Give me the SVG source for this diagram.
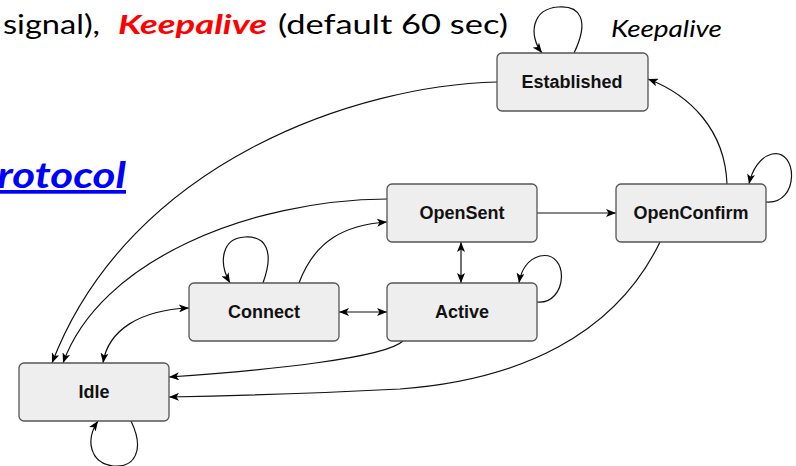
<svg xmlns="http://www.w3.org/2000/svg" width="796" height="466" viewBox="0 0 796 466">
<style>
.node rect{fill:#eeeeee;stroke:#555555;stroke-width:1.3}
.node text{font-family:"Liberation Sans",Arial,sans-serif;font-weight:bold;font-size:18px;fill:#111;text-anchor:middle}
.edge{fill:none;stroke:#111;stroke-width:1.2}
.head{font-family:Lato,"Open Sans",sans-serif;font-size:27px;fill:#000}
</style>
<defs>
<marker id="arr" viewBox="0 0 10 8" refX="10" refY="4" markerWidth="10" markerHeight="8" markerUnits="userSpaceOnUse" orient="auto-start-reverse">
<path d="M0,0 L10,4 L0,8 L2.5,4 z" fill="#000"/>
</marker>
</defs>
<rect width="796" height="466" fill="#ffffff"/>
<text class="head" x="3" y="34" textLength="97" lengthAdjust="spacingAndGlyphs">signal),</text>
<text class="head" x="118" y="34" textLength="149" lengthAdjust="spacingAndGlyphs" style="fill:#ff0000;font-weight:bold;font-style:italic">Keepalive</text>
<text class="head" x="278" y="34" textLength="230" lengthAdjust="spacingAndGlyphs">(default 60 sec)</text>
<text x="611" y="37" textLength="111" lengthAdjust="spacingAndGlyphs" style="font-family:Lato,'Open Sans',sans-serif;font-style:italic;font-size:23px;fill:#000">Keepalive</text>
<text x="126" y="188" text-anchor="end" textLength="154" lengthAdjust="spacingAndGlyphs" style="font-family:Lato,'Open Sans',sans-serif;font-style:italic;font-weight:bold;font-size:37px;fill:#0000ff;text-decoration:underline">Protocol</text>
<g id="connectors">
<path class="edge" d="M574,53 C590,20 580,5 558,7 C532,9 528,35 542,53" marker-end="url(#arr)"/>
<path class="edge" d="M497,82 C360,85 130,160 52,363" marker-end="url(#arr)"/>
<path class="edge" d="M387,199 C250,200 100,260 63,363" marker-end="url(#arr)"/>
<path class="edge" d="M299,283 C315,240 345,225 387,222" marker-end="url(#arr)"/>
<path class="edge" d="M263,283 C275,250 265,236 245,237 C222,238 218,262 230,283" marker-end="url(#arr)"/>
<path class="edge" d="M189,308 C140,310 108,330 103,363" marker-start="url(#arr)" marker-end="url(#arr)"/>
<path class="edge" d="M339,312 L387,312" marker-start="url(#arr)" marker-end="url(#arr)"/>
<path class="edge" d="M461,242 L461,283" marker-start="url(#arr)" marker-end="url(#arr)"/>
<path class="edge" d="M537,302 C568,305 570,250 540,256 C528,259 521,270 519,283" marker-end="url(#arr)"/>
<path class="edge" d="M403,341 C385,358 270,370 169,377" marker-end="url(#arr)"/>
<path class="edge" d="M660,242 C615,335 520,380 400,389 C320,393 230,396 169,397" marker-end="url(#arr)"/>
<path class="edge" d="M537,213 L616,213" marker-end="url(#arr)"/>
<path class="edge" d="M727,184 C725,130 690,95 648,79" marker-end="url(#arr)"/>
<path class="edge" d="M766,202 C800,205 798,148 772,154 C760,157 752,170 749,184" marker-end="url(#arr)"/>
<path class="edge" d="M131,421 C145,450 135,468 113,466 C90,463 85,440 98,421" marker-end="url(#arr)"/>
</g>
<g id="established" class="node"><rect x="497" y="53" width="151" height="58" rx="5"/><text x="572" y="88">Established</text></g>
<g id="opensent" class="node"><rect x="387" y="184" width="150" height="58" rx="5"/><text x="462" y="219">OpenSent</text></g>
<g id="openconfirm" class="node"><rect x="616" y="184" width="150" height="58" rx="5"/><text x="691" y="219">OpenConfirm</text></g>
<g id="connect" class="node"><rect x="189" y="283" width="150" height="58" rx="5"/><text x="264" y="318">Connect</text></g>
<g id="active" class="node"><rect x="387" y="283" width="150" height="58" rx="5"/><text x="462" y="318">Active</text></g>
<g id="idle" class="node"><rect x="19" y="363" width="150" height="58" rx="5"/><text x="94" y="398">Idle</text></g>
</svg>
